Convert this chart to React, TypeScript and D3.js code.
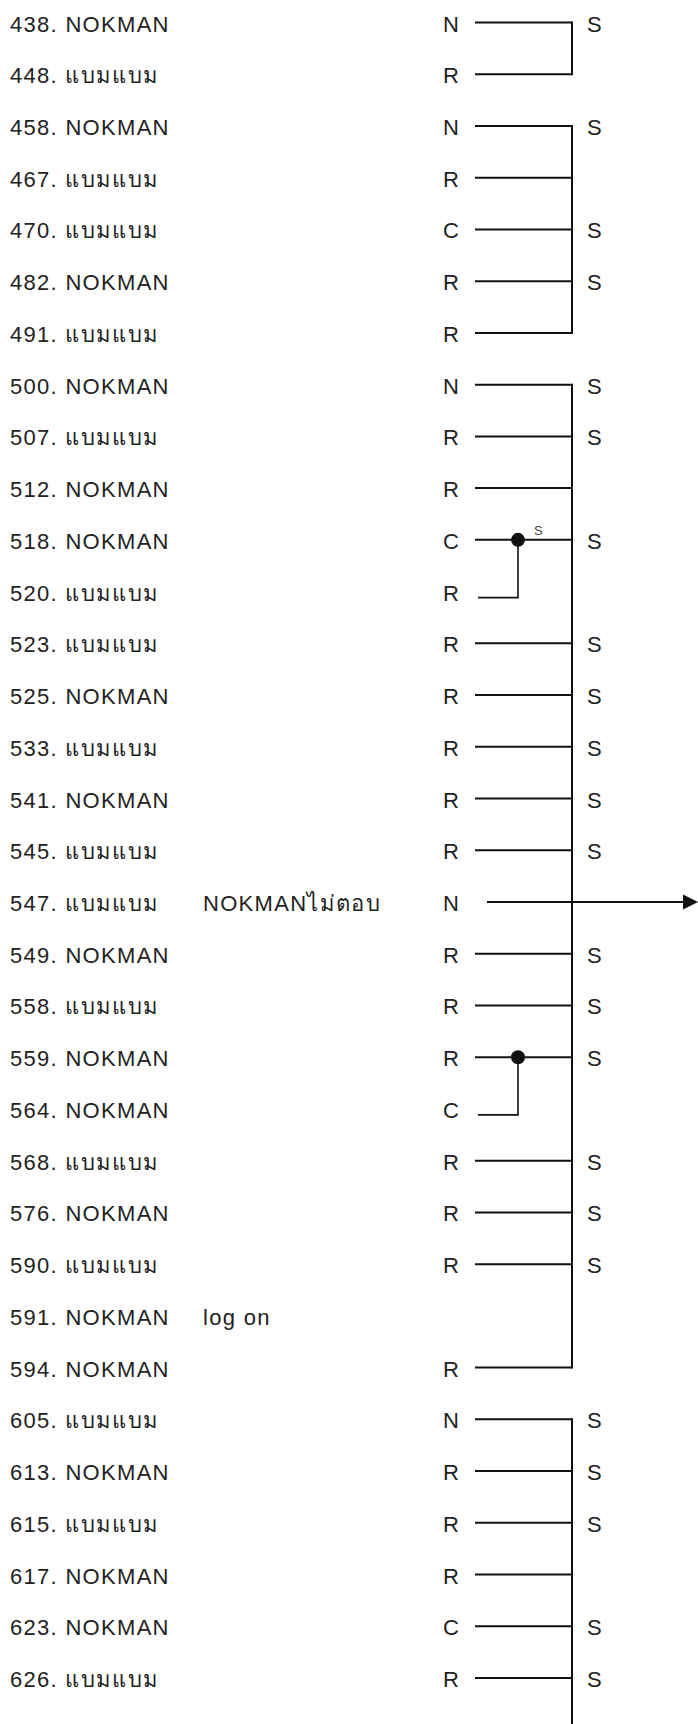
import React from "react";
import * as d3 from "d3";

// ---- data ----
const msgIds = ["438","448","458","467","470","482","491","500","507","512","518","520","523","525","533","541","545","547","549","558","559","564","568","576","590","591","594","605","613","615","617","623","626"];
const senders = ["NOKMAN","แบมแบม","NOKMAN","แบมแบม","แบมแบม","NOKMAN","แบมแบม","NOKMAN","แบมแบม","NOKMAN","NOKMAN","แบมแบม","แบมแบม","NOKMAN","แบมแบม","NOKMAN","แบมแบม","แบมแบม","NOKMAN","แบมแบม","NOKMAN","NOKMAN","แบมแบม","NOKMAN","แบมแบม","NOKMAN","NOKMAN","แบมแบม","NOKMAN","แบมแบม","NOKMAN","NOKMAN","แบมแบม"];
const codes = ["N","R","N","R","C","R","R","N","R","R","C","R","R","R","R","R","R","N","R","R","R","C","R","R","R","","R","N","R","R","R","C","R"];
const replies = ["S","","S","","S","S","","S","S","","S","","S","S","S","S","S","","S","S","S","","S","S","S","","","S","S","S","","S","S"];
// link kind: line to thread, branch to a dot, arrow out of the thread, none
const links = ["line","line","line","line","line","line","line","line","line","line","dot","branch","line","line","line","line","line","arrow","line","line","dot","branch","line","line","line","none","line","line","line","line","line","line","line"];
const notes: Record<string, string> = { "547": "NOKMANไม่ตอบ", "591": "log on" };
const dotMarks: Record<string, string> = { "518": "S" };
// threads: first and last message (null = runs on past the page)
const threadStart = ["438","458","500","605"];
const threadEnd = ["448","491","594",null];

export default function App() {
  const W = 698, H = 1724;
  const y = d3.scalePoint<string>().domain(msgIds).range([22.5, 1678]);
  const xLabel = 10, xNote = 203, xCode = 443, xLineStart = 475, xThread = 572, xDot = 518, xReply = 587;
  const font = "'Liberation Sans', Arial, 'Noto Sans', sans-serif";
  const fs = 22;
  const base = 9;
  const ink = "#222";
  const lineInk = "#111";
  const sw = 2;
  const ls = 1.3;

  const elems: React.ReactNode[] = [];
  msgIds.forEach((id, i) => {
    const yy = y(id)!;
    elems.push(
      <text key={"l" + id} x={xLabel} y={yy + base} fontSize={fs} fill={ink} letterSpacing={ls}>
        {id + ". " + senders[i]}
      </text>
    );
    if (notes[id]) {
      elems.push(<text key={"n" + id} x={xNote} y={yy + base} fontSize={fs} fill={ink} letterSpacing={ls}>{notes[id]}</text>);
    }
    if (codes[i]) {
      elems.push(<text key={"c" + id} x={xCode} y={yy + base} fontSize={fs} fill={ink}>{codes[i]}</text>);
    }
    if (replies[i]) {
      elems.push(<text key={"r" + id} x={xReply} y={yy + base} fontSize={fs} fill={ink}>{replies[i]}</text>);
    }
    const k = links[i];
    if (k === "line" || k === "dot") {
      elems.push(<line key={"h" + id} x1={xLineStart} x2={xThread} y1={yy} y2={yy} stroke={lineInk} strokeWidth={sw} />);
    }
    if (k === "dot") {
      elems.push(<circle key={"d" + id} cx={xDot} cy={yy} r={7} fill={lineInk} />);
      if (dotMarks[id]) {
        elems.push(<text key={"m" + id} x={xDot + 16} y={yy - 5} fontSize={13} fill="#444">{dotMarks[id]}</text>);
      }
      const nextId = msgIds[i + 1];
      const yb = y(nextId)! + 6;
      elems.push(
        <path key={"b" + id} d={d3.line()([[xDot, yy], [xDot, yb], [xLineStart + 3, yb]]) as string} fill="none" stroke={lineInk} strokeWidth={1.6} />
      );
    }
    if (k === "arrow") {
      elems.push(<line key={"a" + id} x1={xLineStart + 12} x2={W - 14} y1={yy} y2={yy} stroke={lineInk} strokeWidth={sw} />);
      elems.push(<path key={"ah" + id} d={`M${W - 15},${yy - 7.5}L${W},${yy}L${W - 15},${yy + 7.5}Z`} fill={lineInk} />);
    }
  });

  threadStart.forEach((s, j) => {
    const e = threadEnd[j];
    const y1 = y(s)! - sw / 2;
    const y2 = e ? y(e)! + sw / 2 : H;
    elems.push(<line key={"t" + j} x1={xThread} x2={xThread} y1={y1} y2={y2} stroke={lineInk} strokeWidth={sw} />);
  });

  return (
    <svg width={W} height={H} style={{ position: "absolute", left: 0, top: 0, background: "#fff" }} fontFamily={font}>
      <rect width={W} height={H} fill="#fff" />
      {elems}
    </svg>
  );
}
